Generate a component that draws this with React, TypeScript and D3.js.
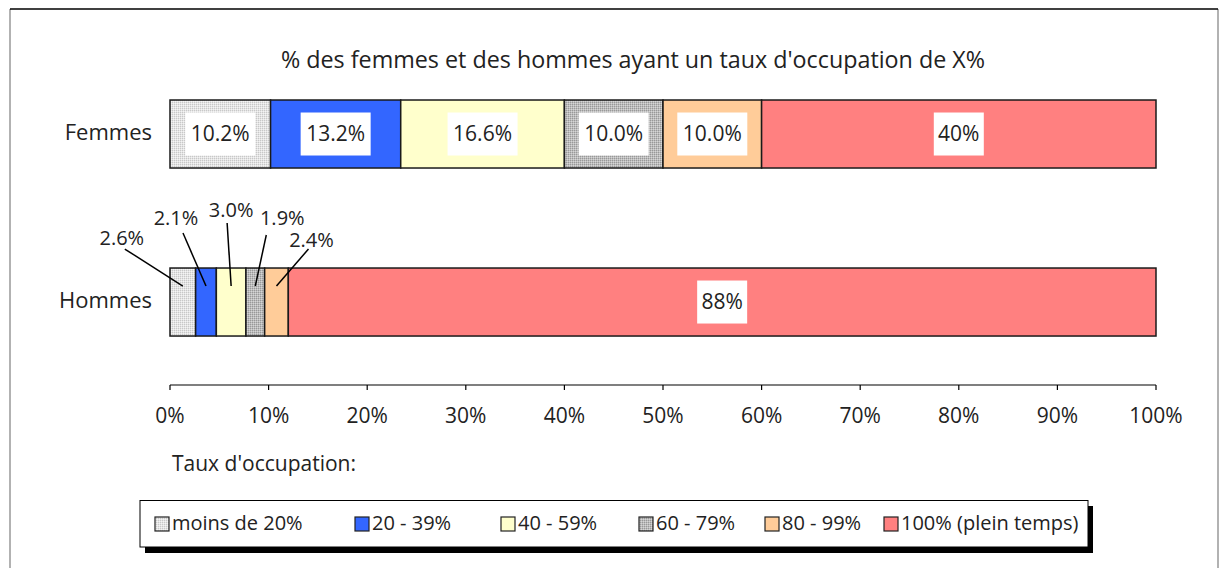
import React from "react";
import * as d3 from "d3";

const categories = ["Femmes", "Hommes"];
const seriesNames = ["moins de 20%", "20 - 39%", "40 - 59%", "60 - 79%", "80 - 99%", "100% (plein temps)"];
const femmesValues = [10.2, 13.2, 16.6, 10.0, 10.0, 40];
const hommesValues = [2.6, 2.1, 3.0, 1.9, 2.4, 88];
const tickValues = [0, 10, 20, 30, 40, 50, 60, 70, 80, 90, 100];

const fills = ["url(#dots)", "#3366ff", "#ffffcc", "url(#grain)", "#ffcc99", "#ff8080"];
const decimals = [1, 1, 1, 1, 1, 0];

// leader-line labels for the thin Hommes segments (offsets from segment center / bar top)
const calloutOffsets = [
  { tx: -61, ty: -28, lx: -58, ly: -19 },
  { tx: -30, ty: -48, lx: -23, ly: -35 },
  { tx: 0, ty: -56, lx: -4, ly: -45 },
  { tx: 27, ty: -48, lx: 11, ly: -33 },
  { tx: 35, ty: -26, lx: 32, ly: -19 },
];

const legendX = [155, 355, 501, 639, 765, 884];

const W = 1220;
const H = 568;
const FONT = "'Open Sans', 'DejaVu Sans', sans-serif";
const FS = 21;

const App = () => {
  const table = categories.map((c, i) => {
    const row: any = { cat: c };
    const vals = i === 0 ? femmesValues : hommesValues;
    seriesNames.forEach((s, j) => (row[s] = vals[j]));
    return row;
  });
  const stacked = d3.stack().keys(seriesNames)(table);

  const x = d3.scaleLinear().domain([0, 100]).range([170, 1156]);
  const y = d3.scaleBand().domain(categories).range([16, 420.04]).paddingInner(100 / 168).paddingOuter(0.5);
  const bh = y.bandwidth();
  const axisY = 385;

  return (
    <svg width={W} height={H} style={{ position: "absolute", left: 0, top: 0 }} fontFamily={FONT}>
      <defs>
        <pattern id="dots" width="2" height="2" patternUnits="userSpaceOnUse">
          <rect width="2" height="2" fill="#e4e4e4" />
          <rect width="1" height="1" fill="#c8c8c8" />
          <rect x="1" y="1" width="1" height="1" fill="#f4f4f4" />
        </pattern>
        <pattern id="grain" width="2" height="2" patternUnits="userSpaceOnUse">
          <rect width="2" height="2" fill="#bcbcbc" />
          <rect width="1" height="1" fill="#999" />
          <rect x="1" y="1" width="1" height="1" fill="#d6d6d6" />
        </pattern>
      </defs>
      <rect width={W} height={H} fill="#fff" />
      <line x1={10} x2={10} y1={9} y2={H} stroke="#999" strokeWidth={1.5} />
      <line x1={1218} x2={1218} y1={9} y2={H} stroke="#999" strokeWidth={1.5} />
      <line x1={10} x2={1218} y1={9} y2={9} stroke="#000" strokeWidth={1.5} />

      <text x={633} y={62} textAnchor="middle" dominantBaseline="middle" fontSize={23.3} fill="#222">
        % des femmes et des hommes ayant un taux d'occupation de X%
      </text>

      {categories.map((c) => (
        <text key={c} x={152} y={(y(c) as number) + bh / 2} textAnchor="end" dominantBaseline="middle" fontSize={FS + 1} fill="#222">
          {c}
        </text>
      ))}

      {stacked.map((layer, j) => (
        <g key={layer.key}>
          {layer.map((d: any, i: number) => (
            <rect
              key={i}
              x={x(d[0])}
              y={y(categories[i])}
              width={x(d[1]) - x(d[0])}
              height={bh}
              fill={fills[j]}
              stroke="#1a1a1a"
              strokeWidth={1.5}
            />
          ))}
        </g>
      ))}

      {stacked.map((layer, j) =>
        layer.map((d: any, i: number) => {
          const v = d[1] - d[0];
          const label = d3.format(`.${decimals[j]}f`)(v) + "%";
          const cx = x((d[0] + d[1]) / 2);
          const top = y(categories[i]) as number;
          const cy = top + bh / 2;
          if (x(d[1]) - x(d[0]) > 60) {
            const bw = label.length * 10 + 20;
            return (
              <g key={`${j}-${i}`}>
                <rect x={cx - bw / 2} y={cy - 21.5} width={bw} height={43} fill="#fff" />
                <text x={cx} y={cy + 1} textAnchor="middle" dominantBaseline="middle" fontSize={FS} fill="#222">
                  {label}
                </text>
              </g>
            );
          }
          const o = calloutOffsets[j];
          return (
            <g key={`${j}-${i}`}>
              <line x1={cx + o.lx} y1={top + o.ly} x2={cx} y2={top + 18} stroke="#000" strokeWidth={1.5} />
              <text x={cx + o.tx} y={top + o.ty} textAnchor="middle" dominantBaseline="middle" fontSize={20} fill="#222">
                {label}
              </text>
            </g>
          );
        })
      )}

      <line x1={x(0)} x2={x(100)} y1={axisY} y2={axisY} stroke="#000" strokeWidth={1.2} />
      {tickValues.map((t) => (
        <g key={t}>
          <line x1={x(t)} x2={x(t)} y1={axisY} y2={axisY + 5} stroke="#000" strokeWidth={1.2} />
          <text x={x(t)} y={417} textAnchor="middle" dominantBaseline="middle" fontSize={FS} fill="#222">
            {t}%
          </text>
        </g>
      ))}

      <text x={172} y={465} dominantBaseline="middle" fontSize={FS} fill="#222">
        Taux d'occupation:
      </text>

      <rect x={145} y={506} width={948} height={47} fill="#000" />
      <rect x={140} y={500.5} width={948} height={46.5} fill="#fff" stroke="#000" strokeWidth={1} />
      {seriesNames.map((s, j) => (
        <g key={s}>
          <rect x={legendX[j]} y={517} width={14} height={14} fill={fills[j]} stroke="#222" strokeWidth={1.2} />
          <text x={legendX[j] + 17} y={525} dominantBaseline="middle" fontSize={20} fill="#222">
            {s}
          </text>
        </g>
      ))}
    </svg>
  );
};

export default App;
